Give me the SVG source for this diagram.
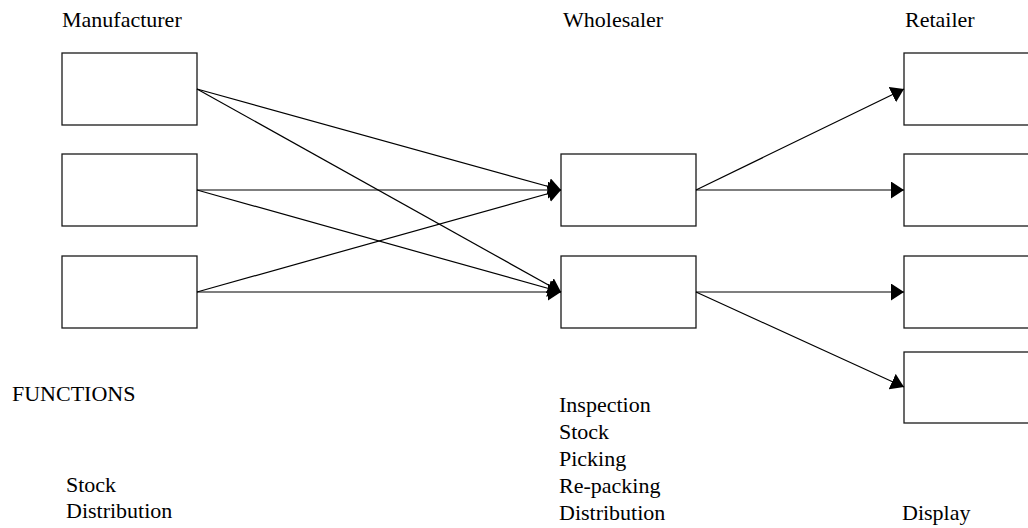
<svg xmlns="http://www.w3.org/2000/svg" width="1028" height="528" viewBox="0 0 1028 528">
  <style>
    .box { fill: #ffffff; stroke: #1a1a1a; stroke-width: 1.3; }
    .link { fill: none; stroke: #000000; stroke-width: 1.2; }
    text { font-family: "Liberation Serif", "Times New Roman", serif; font-size: 22px; fill: #000000; }
  </style>
  <defs>
    <marker id="arrow" markerUnits="userSpaceOnUse" markerWidth="14" markerHeight="18" refX="13" refY="8.5" orient="auto">
      <path d="M0,0 L13,8.5 L0,17 Z" fill="#000000"/>
    </marker>
  </defs>
  <rect width="1028" height="528" fill="#ffffff"/>

  <!-- column headings -->
  <text x="62" y="27">Manufacturer</text>
  <text x="563" y="27">Wholesaler</text>
  <text x="905" y="27">Retailer</text>

  <!-- manufacturers -->
  <g id="manufacturer-1"><rect class="box" x="62" y="53" width="135" height="72"/></g>
  <g id="manufacturer-2"><rect class="box" x="62" y="154" width="135" height="72"/></g>
  <g id="manufacturer-3"><rect class="box" x="62" y="256" width="135" height="72"/></g>

  <!-- wholesalers -->
  <g id="wholesaler-1"><rect class="box" x="561" y="154" width="135" height="72"/></g>
  <g id="wholesaler-2"><rect class="box" x="561" y="256" width="135" height="72"/></g>

  <!-- retailers (run off the right edge) -->
  <g id="retailer-1"><rect class="box" x="904" y="53" width="135" height="72"/></g>
  <g id="retailer-2"><rect class="box" x="904" y="154" width="135" height="72"/></g>
  <g id="retailer-3"><rect class="box" x="904" y="256" width="135" height="72"/></g>
  <g id="retailer-4"><rect class="box" x="904" y="352" width="135" height="71"/></g>

  <!-- flows -->
  <g id="connectors">
    <line class="link" x1="197" y1="89" x2="561" y2="190" marker-end="url(#arrow)"/>
    <line class="link" x1="197" y1="89" x2="561" y2="292" marker-end="url(#arrow)"/>
    <line class="link" x1="197" y1="190" x2="561" y2="190" marker-end="url(#arrow)"/>
    <line class="link" x1="197" y1="190" x2="561" y2="292" marker-end="url(#arrow)"/>
    <line class="link" x1="197" y1="292" x2="561" y2="190" marker-end="url(#arrow)"/>
    <line class="link" x1="197" y1="292" x2="561" y2="292" marker-end="url(#arrow)"/>
    <line class="link" x1="696" y1="190" x2="904" y2="89" marker-end="url(#arrow)"/>
    <line class="link" x1="696" y1="190" x2="904" y2="190" marker-end="url(#arrow)"/>
    <line class="link" x1="696" y1="292" x2="904" y2="292" marker-end="url(#arrow)"/>
    <line class="link" x1="696" y1="292" x2="904" y2="387" marker-end="url(#arrow)"/>
  </g>

  <!-- functions -->
  <text x="12" y="401">FUNCTIONS</text>
  <text x="66" y="492">Stock</text>
  <text x="66" y="518">Distribution</text>

  <text x="559" y="412">Inspection</text>
  <text x="559" y="439">Stock</text>
  <text x="559" y="466">Picking</text>
  <text x="559" y="493">Re-packing</text>
  <text x="559" y="520">Distribution</text>

  <text x="902" y="520">Display</text>
</svg>
